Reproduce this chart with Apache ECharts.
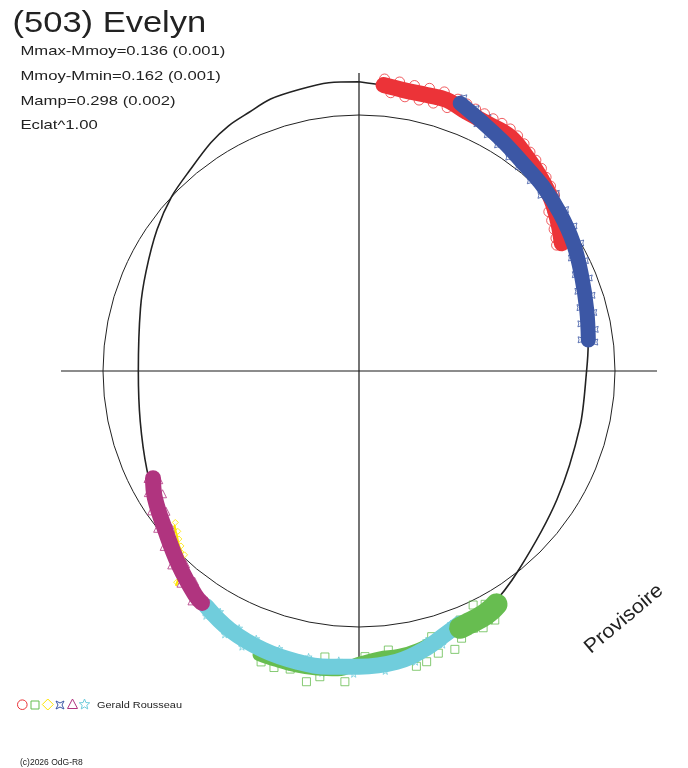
<!DOCTYPE html>
<html>
<head>
<meta charset="utf-8">
<title>(503) Evelyn</title>
<script src="https://cdn.jsdelivr.net/npm/echarts@6/dist/echarts.min.js"></script>
<style>
  html, body { margin: 0; padding: 0; background: #fff; }
  #main { width: 688px; height: 768px; }
</style>
</head>
<body>
<div id="main"></div>
<script>
// angle = phase in degrees, clockwise from top ; radius relative to mean circle (= 1)
const fitAngle = [0, 10, 20, 30, 40, 50, 57, 67, 75, 83, 90, 104, 123, 141, 151, 160, 170, 180, 190, 200, 207, 215, 221, 228, 235, 245, 257, 270, 286, 295, 305, 313, 320, 327, 332, 337, 342, 348, 354, 360];
const fitRadius = [1.130, 1.115, 1.111, 1.070, 1.029, 1.004, 0.970, 0.941, 0.920, 0.902, 0.889, 0.890, 0.922, 0.995, 1.054, 1.085, 1.133, 1.152, 1.156, 1.148, 1.129, 1.082, 1.039, 0.996, 0.957, 0.914, 0.877, 0.862, 0.888, 0.918, 0.963, 1.000, 1.026, 1.063, 1.085, 1.098, 1.117, 1.124, 1.132, 1.130];

// session 1 (red, circles)
const redAngle = [4.9, 9.0, 13.8, 17.9, 21.8, 27.3, 32.8, 38.0, 43.0, 48.4, 53.5, 57.8];
const redRadius = [1.121, 1.111, 1.110, 1.113, 1.098, 1.089, 1.089, 1.063, 1.037, 1.006, 0.969, 0.936];
const redPtAngle = [5, 6.5, 8, 9.5, 11, 12.5, 14, 15.5, 17, 18.5, 20, 22, 24, 26, 28, 30, 32, 34, 36, 38, 40, 42, 44, 46, 48, 50, 52, 54, 56, 57.5];
const redPtRadius = [1.145, 1.094, 1.140, 1.086, 1.136, 1.084, 1.138, 1.086, 1.140, 1.085, 1.130, 1.125, 1.120, 1.118, 1.116, 1.117, 1.115, 1.108, 1.097, 1.085, 1.075, 1.065, 1.052, 1.040, 1.028, 0.968, 0.955, 0.942, 0.928, 0.915];

// session 4 (blue, four-point stars)
const blueAngle = [20.7, 25.7, 32.2, 38.3, 45.0, 51.9, 59.2, 67.0, 75.0, 82.3];
const blueRadius = [1.118, 1.088, 1.058, 1.034, 1.018, 0.998, 0.975, 0.945, 0.921, 0.904];
const bluePtAngle = [21, 22.5, 24, 25.5, 27, 28.5, 30, 31.5, 33, 35, 36, 38, 40, 42, 44, 46, 48, 50, 52, 54, 56, 58, 60, 62, 64, 66, 68, 70, 72, 74, 76, 78, 80, 82, 83];
const bluePtRadius = [1.143, 1.082, 1.122, 1.070, 1.110, 1.050, 1.095, 1.036, 1.082, 1.020, 1.068, 1.012, 1.057, 1.000, 1.046, 0.988, 1.037, 0.978, 1.024, 0.966, 1.013, 0.953, 1.000, 0.940, 0.984, 0.925, 0.970, 0.910, 0.957, 0.898, 0.945, 0.886, 0.937, 0.876, 0.928];

// session 2 (green, squares)
const greenAngle = [158, 163, 168, 172, 176, 180, 184, 188, 192, 196, 199.5];
const greenRadius = [1.075, 1.090, 1.110, 1.120, 1.122, 1.140, 1.172, 1.178, 1.180, 1.178, 1.176];
const greenClumpAngle = [149.5, 151, 153, 155, 157, 158.5];
const greenClumpRadius = [1.058, 1.066, 1.072, 1.074, 1.076, 1.078];
const greenPtAngle = [198.6, 196, 193, 189.6, 187.3, 186.8, 182.6, 178.8, 174.5, 174, 169, 166.9, 164.7, 164.3, 161, 159, 157.9, 156, 154.2, 154.0, 152.5, 151.6, 151.4, 151, 149.5];
const greenPtRadius = [1.199, 1.205, 1.195, 1.231, 1.204, 1.125, 1.215, 1.116, 1.120, 1.096, 1.175, 1.166, 1.076, 1.145, 1.150, 1.118, 1.050, 1.100, 1.114, 1.017, 1.095, 1.036, 1.108, 1.068, 1.045];

// session 6 (cyan, stars)
const cyanAngle = [213, 206.5, 199, 192, 185.6, 180, 172.6, 167, 161.5, 158.2];
const cyanRadius = [1.096, 1.130, 1.152, 1.161, 1.161, 1.155, 1.145, 1.118, 1.080, 1.062];
const cyanPtAngle = [212, 210, 207, 205, 203, 201, 198, 196, 193, 190, 187, 184, 181, 178, 175, 172, 169, 166, 163, 160];
const cyanPtRadius = [1.128, 1.085, 1.155, 1.108, 1.170, 1.120, 1.180, 1.128, 1.187, 1.134, 1.188, 1.133, 1.183, 1.125, 1.176, 1.117, 1.157, 1.085, 1.118, 1.050];

// session 3 (yellow, diamonds)
const yellowAngle = [230, 229, 228, 227, 226, 225, 224, 223, 222.5, 222, 221.5, 221, 220.5];
const yellowRadius = [0.940, 0.950, 0.958, 0.968, 0.978, 0.986, 0.995, 1.003, 1.015, 1.030, 1.050, 1.075, 1.100];
const yellowPtAngle = [230.5, 229.5, 228.5, 227, 225.5, 224.5, 223.5, 222.8, 222, 221.2, 220.8];
const yellowPtRadius = [0.930, 0.952, 0.945, 0.962, 0.975, 0.992, 0.990, 1.012, 1.040, 1.062, 1.090];

// session 5 (magenta, triangles)
const magentaAngle = [242.5, 238.1, 230.2, 222.9, 216.2, 214.1];
const magentaRadius = [0.907, 0.939, 0.982, 1.034, 1.084, 1.094];
const magentaPtAngle = [243, 241.5, 240, 238, 236, 234, 232, 230, 228, 226, 224, 222, 220, 218, 216];
const magentaPtRadius = [0.925, 0.890, 0.950, 0.905, 0.977, 0.932, 0.998, 0.956, 1.024, 0.988, 1.053, 1.013, 1.082, 1.043, 1.110];

const C = {
  red: '#ec3338', blue: '#3c57a5', green: '#67bd50',
  cyan: '#70cddc', yellow: '#ffe600', magenta: '#b0347f', ink: '#222'
};
const ASTROID = 'path://M0,0 Q5,3 10,0 Q7,5 10,10 Q5,7 0,10 Q3,5 0,0Z';
const STAR = 'path://M5,0L6.2,3.5L10,3.6L7,5.9L8.1,9.5L5,7.4L1.9,9.5L3,5.9L0,3.6L3.8,3.5Z';

const pts = (a, r) => a.map((t, i) => [r[i], t]);

// data polar: 256 px per unit of radius, made large enough so no point leaves it
const UNIT = 256, DATA_R = 340;

function band(angle, radius, color, width) {
  return {
    type: 'line', coordinateSystem: 'polar', polarIndex: 0,
    data: pts(angle, radius), smooth: 0.4, showSymbol: false, clip: false, silent: true,
    lineStyle: { color: color, width: width, cap: 'round', join: 'round' }
  };
}
function marks(angle, radius, color, symbol, size) {
  return {
    type: 'scatter', coordinateSystem: 'polar', polarIndex: 0,
    data: pts(angle, radius), symbol: symbol, symbolSize: size, clip: false, silent: true,
    itemStyle: { color: 'rgba(0,0,0,0)', borderColor: color, borderWidth: 1 }
  };
}

const chart = echarts.init(document.getElementById('main'));

const font = 'Liberation Sans, Arial, sans-serif';
function label(text, x, y, size, sx, extra) {
  return Object.assign({
    type: 'text', x: x, y: y, scaleX: sx, silent: true,
    style: { text: text, fontSize: size, fontFamily: font, fill: C.ink, align: 'left', verticalAlign: 'middle' }
  }, extra || {});
}

// small star outline for the legend row
const starPts = [];
for (let i = 0; i < 10; i++) {
  const a = -Math.PI / 2 + i * Math.PI / 5, rr = i % 2 ? 2.4 : 5.5;
  starPts.push([84.5 + rr * Math.cos(a), 704.5 + rr * Math.sin(a)]);
}
const open = (c) => ({ fill: 'none', stroke: c, lineWidth: 1 });

const hidden = { axisLine: { show: false }, axisTick: { show: false }, axisLabel: { show: false }, splitLine: { show: false } };

const option = {
  backgroundColor: '#fff',
  animation: false,
  polar: [
    { center: [359, 371], radius: DATA_R },
    { center: [359, 371], radius: 298 },
    { center: [359, 371], radius: UNIT }
  ],
  angleAxis: [
    Object.assign({ polarIndex: 0, type: 'value', min: 0, max: 360, startAngle: 90, clockwise: true }, hidden),
    Object.assign({}, hidden, {
      polarIndex: 1, type: 'value', min: 0, max: 360, interval: 90, startAngle: 90, clockwise: true,
      splitLine: { show: true, lineStyle: { color: '#1a1a1a', width: 1.2 } }
    }),
    Object.assign({}, hidden, {
      polarIndex: 2, type: 'value', min: 0, max: 360, startAngle: 90,
      axisLine: { show: true, lineStyle: { color: C.ink, width: 1 } }
    })
  ],
  radiusAxis: [
    Object.assign({ polarIndex: 0, type: 'value', min: 0, max: DATA_R / UNIT }, hidden),
    Object.assign({ polarIndex: 1, type: 'value', min: 0, max: 1 }, hidden),
    Object.assign({ polarIndex: 2, type: 'value', min: 0, max: 1 }, hidden)
  ],
  series: [
    {
      type: 'line', coordinateSystem: 'polar', polarIndex: 0,
      data: pts(fitAngle, fitRadius), smooth: 0.3, showSymbol: false, clip: false, silent: true,
      lineStyle: { color: C.ink, width: 1.6 }
    },
    band(redAngle, redRadius, C.red, 16),
    marks(redPtAngle, redPtRadius, C.red, 'circle', 10),
    band(blueAngle, blueRadius, C.blue, 15),
    marks(bluePtAngle, bluePtRadius, C.blue, ASTROID, 6),
    band(greenAngle, greenRadius, C.green, 12),
    band(cyanAngle, cyanRadius, C.cyan, 16),
    marks(cyanPtAngle, cyanPtRadius, C.cyan, STAR, 7),
    band(greenClumpAngle, greenClumpRadius, C.green, 22),
    marks(greenPtAngle, greenPtRadius, C.green, 'rect', 8),
    band(yellowAngle, yellowRadius, C.yellow, 2),
    marks(yellowPtAngle, yellowPtRadius, C.yellow, 'diamond', 6),
    band(magentaAngle, magentaRadius, C.magenta, 16),
    marks(magentaPtAngle, magentaPtRadius, C.magenta, 'triangle', 8)
  ],
  graphic: [
    label('(503) Evelyn', 12.5, 24, 29, 1.19),
    label('Mmax-Mmoy=0.136 (0.001)', 20.5, 51.5, 13, 1.28),
    label('Mmoy-Mmin=0.162 (0.001)', 20.5, 76.5, 13, 1.28),
    label('Mamp=0.298 (0.002)', 20.5, 101.5, 13, 1.28),
    label('Eclat^1.00', 20.5, 125.5, 13, 1.28),
    label('Provisoire', 624, 619, 20, 1.08, { rotation: 0.7,
      style: { text: 'Provisoire', fontSize: 20, fontFamily: font, fill: C.ink, align: 'center', verticalAlign: 'middle' } }),
    { type: 'circle', silent: true, shape: { cx: 22.3, cy: 704.7, r: 4.8 }, style: open(C.red) },
    { type: 'rect', silent: true, shape: { x: 31, y: 701, width: 8, height: 8 }, style: open(C.green) },
    { type: 'polygon', silent: true, shape: { points: [[47.8, 699], [53.3, 704.5], [47.8, 710], [42.3, 704.5]] }, style: open(C.yellow) },
    { type: 'polygon', silent: true, shape: { points: [[56, 701], [60, 703], [64, 701], [62, 705], [64, 709], [60, 707], [56, 709], [58, 705]] }, style: open(C.blue) },
    { type: 'polygon', silent: true, shape: { points: [[72.5, 699], [77.5, 708.5], [67.5, 708.5]] }, style: open(C.magenta) },
    { type: 'polygon', silent: true, shape: { points: starPts }, style: open(C.cyan) },
    label('Gerald Rousseau', 97, 705, 9.5, 1.15),
    label('(c)2026 OdG-R8', 20, 763, 8.5, 1.0)
  ]
};

chart.setOption(option);
</script>
</body>
</html>
